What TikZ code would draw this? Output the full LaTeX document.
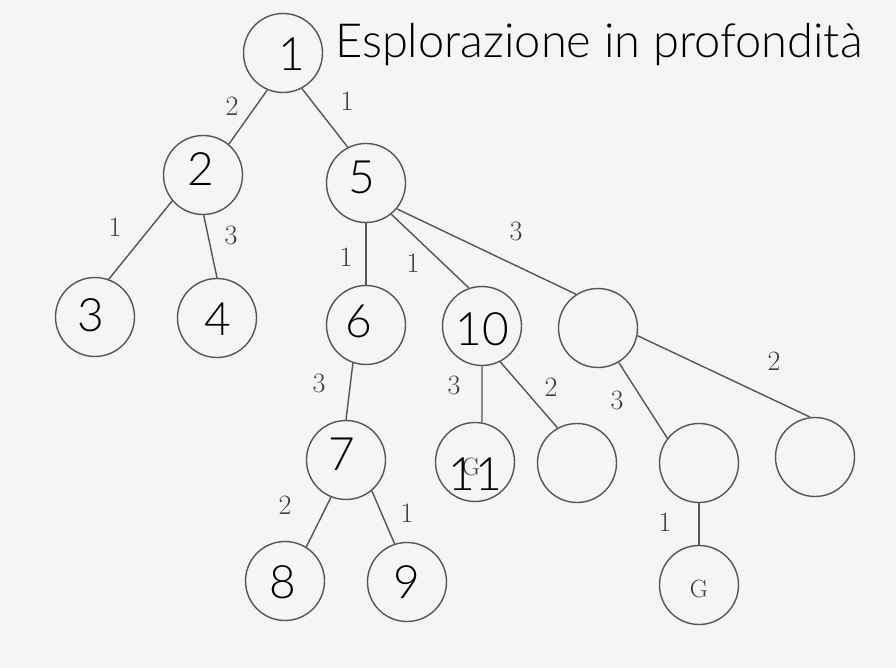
\documentclass[tikz,border=0pt]{standalone}
\usepackage{fontspec}
\newfontfamily\latol{Lato}[UprightFont={* Light}]
\definecolor{bgc}{RGB}{245,245,245}
\definecolor{ringc}{RGB}{85,85,85}
\definecolor{labc}{RGB}{60,60,60}
\begin{document}
\begin{tikzpicture}[x=1pt,y=-1pt,
  nd/.style={circle,draw=ringc,line width=1.4pt,minimum size=79pt,inner sep=0pt},
  ed/.style={draw=ringc,line width=1.4pt},
  wt/.style={text=labc,font=\fontsize{28}{28}\selectfont,inner sep=0pt},
  gl/.style={text=labc,font=\fontsize{25}{25}\selectfont,inner sep=0pt},
  num/.style={font=\latol\fontsize{46}{46}\selectfont,inner sep=0pt},
  ttl/.style={font=\latol\fontsize{47}{47}\selectfont,inner sep=0pt,anchor=base west}]
\fill[bgc] (0,0) rectangle (896,668);
\useasboundingbox (0,0) rectangle (896,668);
% circles
\node[nd] (n1) at (283,53) {};
\node[nd] (n2) at (203,175) {};
\node[nd] (n5) at (366,183) {};
\node[nd] (n3) at (95,317) {};
\node[nd] (n4) at (217,318) {};
\node[nd] (n6) at (366,325) {};
\node[nd] (n10) at (482,326) {};
\node[nd] (nR) at (598,328) {};
\node[nd] (n11) at (475,462) {};
\node[nd] (nE) at (577,463) {};
\node[nd] (nRL) at (699,463) {};
\node[nd] (nRR) at (815,457) {};
\node[nd] (n7) at (346,460) {};
\node[nd] (n8) at (285,581) {};
\node[nd] (n9) at (407,582) {};
\node[nd] (nG) at (699,585) {};
% edges
\draw[ed] (n1.-113) -- (n2.50);
\draw[ed] (n1.-62) -- (n5.117);
\draw[ed] (n2.-140) -- (n3.70);
\draw[ed] (n2.-89) -- (n4.90);
\draw[ed] (n5.-90) -- (n6.90);
\draw[ed] (n5.-51) -- (n10.109);
\draw[ed] (n5.-40) -- (nR.123);
\draw[ed] (n10.-90) -- (n11.80);
\draw[ed] (n10.-63) -- (nE.119);
\draw[ed] (nR.-59) -- (nRL.142);
\draw[ed] (nR.-11) -- (nRR.97);
\draw[ed] (n6.-109) -- (n7.90);
\draw[ed] (n7.-112) -- (n8.58);
\draw[ed] (n7.-50) -- (n9.108);
\draw[ed] (nRL.-90) -- (nG.90);
% edge weights
\node[wt] (w12) at (232,106) {2};
\node[wt] (w15) at (347,101) {1};
\node[wt] (w23) at (115,227) {1};
\node[wt] (w24) at (231,235) {3};
\node[wt] (w56) at (346,257) {1};
\node[wt] (w510) at (413,263) {1};
\node[wt] (w5R) at (516,231) {3};
\node[wt] (w67) at (319,383) {3};
\node[wt] (w1011) at (454,385) {3};
\node[wt] (w10E) at (551,387) {2};
\node[wt] (wRRL) at (617,400) {3};
\node[wt] (wRRR) at (774,361) {2};
\node[wt] (w78) at (285,505) {2};
\node[wt] (w79) at (407,513) {1};
\node[wt] (wRLG) at (665,522) {1};
\node[gl] (g11) at (471,467) {G};
\node[gl] (gG) at (699,589) {G};
% overlay numbers
\node[num] (t1) at (292,54) {1};
\node[num] (t2) at (201,169) {2};
\node[num] (t5) at (362,177) {5};
\node[num] (t3) at (91,315) {3};
\node[num] (t4) at (218,319) {4};
\node[num] (t6) at (359,321) {6};
\node[num] (t10) at (482,329) {10};
\node[num] (t11) at (475,474) {11};
\node[num] (t7) at (342,454) {7};
\node[num] (t8) at (283,582) {8};
\node[num] (t9) at (407,582) {9};
\node[ttl] (title) at (335,58) {Esplorazione in profondità};
\end{tikzpicture}
\end{document}
